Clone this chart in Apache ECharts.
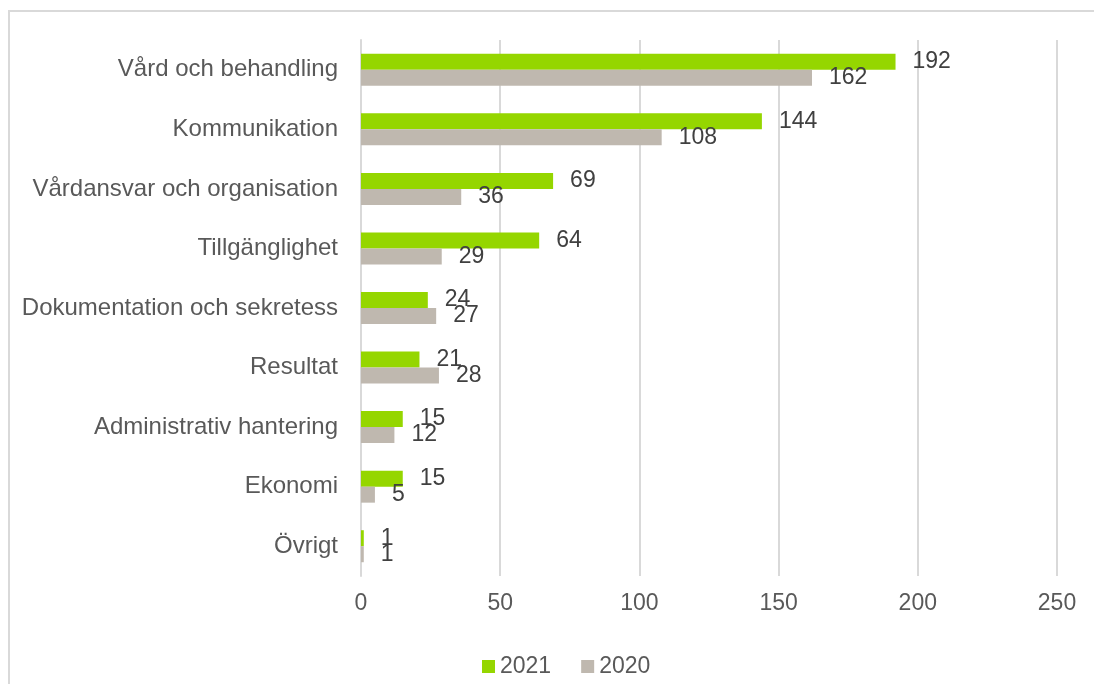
<!DOCTYPE html>
<html>
<head>
<meta charset="utf-8">
<script src="https://cdn.jsdelivr.net/npm/echarts@6/dist/echarts.min.js"></script>
<style>
  html, body { margin: 0; padding: 0; background: #fff; }
  #chart { width: 1094px; height: 684px; }
</style>
</head>
<body>
<div id="chart"></div>
<script>
const categories = [
  'Vård och behandling',
  'Kommunikation',
  'Vårdansvar och organisation',
  'Tillgänglighet',
  'Dokumentation och sekretess',
  'Resultat',
  'Administrativ hantering',
  'Ekonomi',
  'Övrigt'
]
const values2021 = [192, 144, 69, 64, 24, 21, 15, 15, 1]
const values2020 = [162, 108, 36, 29, 27, 28, 12, 5, 1]
const xTicks = [0, 50, 100, 150, 200, 250]

const textColor = '#595959'
const labelColor = '#404040'
const gridColor = '#D9D9D9'
const font = 'Liberation Sans, Arial, sans-serif'

const chart = echarts.init(document.getElementById('chart'))

const valueLabel = {
  show: true,
  position: 'right',
  distance: 17,
  color: labelColor,
  fontSize: 23,
  fontFamily: font
}

chart.setOption({
  backgroundColor: '#fff',
  animation: false,
  graphic: [{
    type: 'rect',
    shape: { x: 9, y: 11, width: 1200, height: 1000 },
    style: { fill: 'none', stroke: gridColor, lineWidth: 2 },
    silent: true
  }],
  legend: {
    left: 477,
    top: 650,
    itemWidth: 13,
    itemHeight: 13,
    itemGap: 30,
    icon: 'rect',
    textStyle: { color: textColor, fontSize: 23, fontFamily: font },
    data: ['2021', '2020']
  },
  grid: {
    left: 361,
    right: 37,
    top: 40,
    bottom: 108
  },
  xAxis: {
    type: 'value',
    min: xTicks[0],
    max: xTicks[xTicks.length - 1],
    interval: xTicks[1] - xTicks[0],
    axisLine: { show: false },
    axisTick: { show: false },
    axisLabel: { color: textColor, fontSize: 23, fontFamily: font, margin: 16 },
    splitLine: { lineStyle: { color: gridColor, width: 2 } }
  },
  yAxis: {
    type: 'category',
    inverse: true,
    data: categories,
    axisLine: { show: true, lineStyle: { color: gridColor, width: 2 } },
    axisTick: { show: false },
    axisLabel: { color: textColor, fontSize: 24, fontFamily: font, margin: 23, padding: [8, 0, 0, 0] }
  },
  series: [
    {
      name: '2021',
      type: 'bar',
      barWidth: 16,
      barGap: '0%',
      itemStyle: { color: '#95D600' },
      label: valueLabel,
      data: values2021
    },
    {
      name: '2020',
      type: 'bar',
      barWidth: 16,
      barGap: '0%',
      itemStyle: { color: '#BFB8AF' },
      label: valueLabel,
      data: values2020
    }
  ]
})
</script>
</body>
</html>
